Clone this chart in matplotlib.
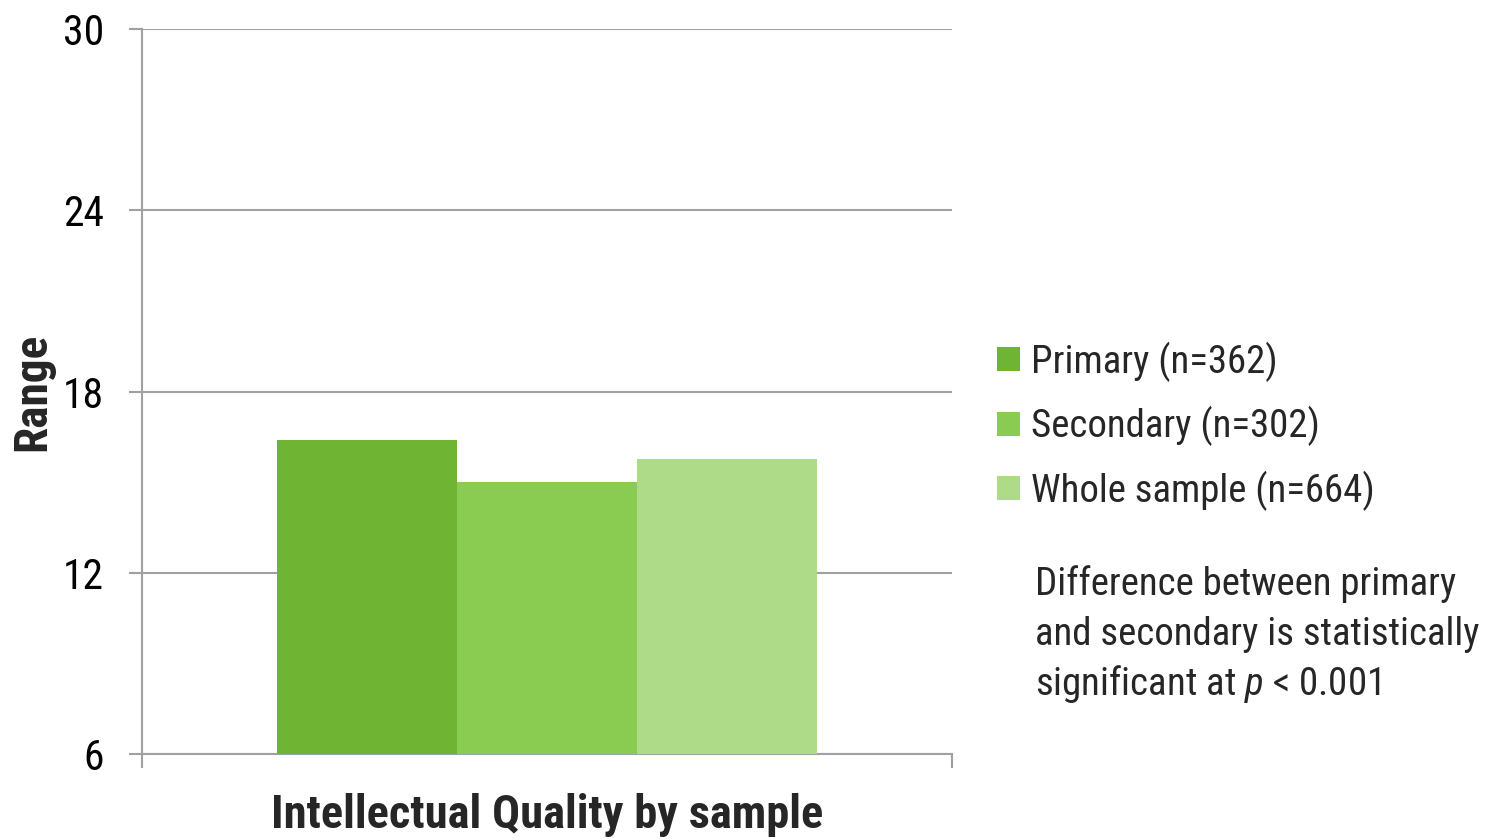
import matplotlib
matplotlib.use("Agg")
import matplotlib.pyplot as plt

FONT = ['Roboto Condensed', 'Archivo Narrow', 'Liberation Sans', 'DejaVu Sans']
plt.rcParams['font.family'] = FONT
plt.rcParams['mathtext.fontset'] = 'custom'
plt.rcParams['mathtext.rm'] = 'Roboto Condensed'
plt.rcParams['mathtext.it'] = 'Roboto Condensed:italic'

# data
series = ["Primary (n=362)", "Secondary (n=302)", "Whole sample (n=664)"]
values = [16.4, 15.0, 15.75]
colors = ["#70b434", "#8acb51", "#addb87"]
yticks = [6, 12, 18, 24, 30]
note = ["Difference between primary",
        "and secondary is statistically",
        "significant at $p$ < 0.001"]

fig = plt.figure(figsize=(14.9, 8.39), dpi=100)
ax = fig.add_axes([0.0953, 0.1013, 0.5436, 0.8641])

w = 2 / 9
offsets = [-w, 0, w]
handles = []
for off, v, c, lab in zip(offsets, values, colors, series):
    b = ax.bar(off, v - 6, bottom=6, width=w, color=c, label=lab, zorder=3)
    handles.append(b)

grey = "#a0a0a0"
ax.set_xlim(-0.5, 0.5)
ax.set_ylim(6, 30)
ax.set_yticks(yticks)
ax.set_yticklabels([str(t) for t in yticks], fontsize=30, color="black")
ax.yaxis.grid(True, color=grey, linewidth=1.5, zorder=0)
ax.tick_params(axis='y', length=9.5, width=1.5, color=grey, pad=18)
ax.set_xticks([-0.5, 0.5])
ax.set_xticklabels(["", ""])
ax.tick_params(axis='x', length=10, width=1.5, color=grey)
for s in ["top", "right"]:
    ax.spines[s].set_visible(False)
for s in ["left", "bottom"]:
    ax.spines[s].set_color(grey)
    ax.spines[s].set_linewidth(1.5)

fig.text(0.3671, 0.0131, "Intellectual Quality by sample", fontsize=33.5,
         fontweight="bold", color="#262626", ha="center", va="baseline")
fig.text(0.0215, 0.5328, "Range", fontsize=34, fontweight="bold",
         color="#262626", ha="center", va="center", rotation=90)

fig.legend(handles=handles, labels=series, loc="upper left",
           bbox_to_anchor=(0.6564, 0.616), frameon=False, fontsize=28,
           handlelength=0.57, handleheight=0.57, handletextpad=0.3,
           labelspacing=0.62, borderpad=0, labelcolor="#262626")

for i, line in enumerate(note):
    y = 1 - (595 + 50 * i) / 839
    fig.text(0.6946, y, line, fontsize=28, color="#262626",
             ha="left", va="baseline")

fig.savefig("out.png", dpi=100)
